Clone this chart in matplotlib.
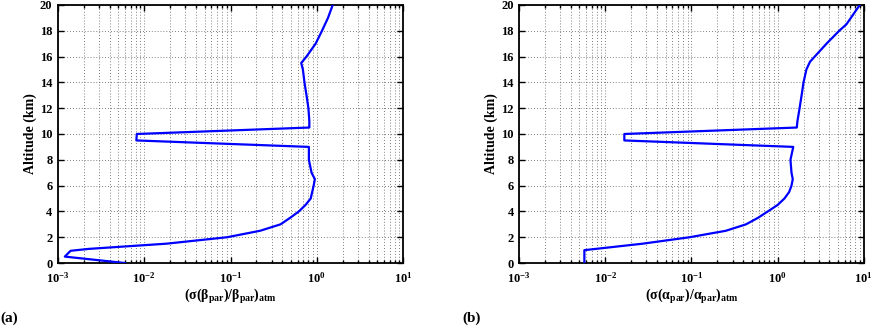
import matplotlib
matplotlib.use("Agg")
import matplotlib.pyplot as plt
from matplotlib.ticker import LogLocator, NullFormatter

plt.rcParams['font.family'] = ['Liberation Serif', 'DejaVu Serif']
plt.rcParams['font.weight'] = 'bold'
plt.rcParams['mathtext.fontset'] = 'custom'
plt.rcParams['mathtext.rm'] = 'Liberation Serif:bold'
plt.rcParams['mathtext.it'] = 'Liberation Serif:bold'
plt.rcParams['mathtext.bf'] = 'Liberation Serif:bold'
plt.rcParams['mathtext.default'] = 'rm'

# Panel (a): relative error of particle backscatter
alt_a = [0.0, 0.5, 0.95, 1.1, 1.5, 2.0, 2.5, 3.0, 3.5, 4.0, 4.5, 5.0, 6.0, 6.5, 7.0, 8.0, 9.0,
         9.5, 10.0, 10.5, 11.0, 12.0, 13.0, 14.0, 15.0, 15.5, 16.0, 17.0, 18.0, 19.0, 20.0]
err_a = [0.006, 0.0012, 0.0014, 0.0023, 0.018, 0.091, 0.22, 0.38, 0.49, 0.62, 0.74, 0.85, 0.92, 0.95, 0.87, 0.81, 0.81,
         0.0081, 0.0082, 0.82, 0.82, 0.80, 0.76, 0.72, 0.69, 0.66, 0.76, 0.97, 1.15, 1.35, 1.53]

# Panel (b): relative error of particle extinction
alt_b = [0.0, 1.0, 1.1, 1.5, 2.0, 2.5, 3.0, 3.5, 4.0, 4.5, 5.0, 5.5, 6.0, 6.5, 7.0, 8.0, 9.0,
         9.5, 10.0, 10.5, 11.0, 12.0, 13.0, 13.5, 14.0, 15.0, 15.6, 16.0, 17.0, 18.0, 18.5, 19.0, 20.0]
err_b = [0.0057, 0.0057, 0.0078, 0.027, 0.095, 0.25, 0.43, 0.59, 0.77, 1.0, 1.2, 1.36, 1.45, 1.5, 1.45, 1.41, 1.52,
         0.0166, 0.0166, 1.67, 1.70, 1.80, 1.90, 1.95, 2.0, 2.16, 2.38, 2.7, 3.7, 5.2, 6.3, 7.1, 9.0]

xlabels = [r'$(\sigma(\beta_{par})/\beta_{par})_{atm}$',
           r'$(\sigma(\alpha_{par})/\alpha_{par})_{atm}$']
panel_labels = ['(a)', '(b)']
yticks = list(range(0, 21, 2))

fig = plt.figure(figsize=(8.72, 3.28), dpi=100)
positions = [[0.0665, 0.198, 0.3957, 0.787], [0.5955, 0.198, 0.395, 0.787]]
label_pos = [(0.001, 0.03), (0.530, 0.03)]

for pos, x, y, xl, pl, lp in zip(positions, [err_a, err_b], [alt_a, alt_b], xlabels, panel_labels, label_pos):
    ax = fig.add_axes(pos)
    ax.plot(x, y, color='#0000ff', lw=1.6, zorder=3)
    ax.set_xscale('log')
    ax.set_xlim(1e-3, 1e1)
    ax.set_ylim(0, 20)
    ax.set_yticks(yticks)
    ax.xaxis.set_major_locator(LogLocator(base=10, numticks=10))
    ax.xaxis.set_minor_locator(LogLocator(base=10, subs=range(2, 10), numticks=50))
    ax.xaxis.set_minor_formatter(NullFormatter())
    gkw = dict(linestyle=(0, (1, 2.5)), color='#555555', lw=0.6)
    ax.grid(True, which='major', axis='both', **gkw)
    ax.grid(True, which='minor', axis='x', **gkw)
    ax.tick_params(which='both', direction='in', top=True, right=True, labelsize=9, width=1)
    ax.tick_params(which='major', length=4)
    ax.tick_params(which='minor', length=2.5)
    ax.tick_params(axis='x', which='major', pad=6)
    ax.tick_params(axis='y', which='major', pad=4)
    for s in ax.spines.values():
        s.set_linewidth(1.3)
    ax.set_ylabel('Altitude (km)', fontsize=10, fontweight='bold', labelpad=2)
    ax.set_xlabel(xl, fontsize=10, labelpad=1)
    fig.text(lp[0], lp[1], pl, fontsize=11, fontweight='bold', ha='left', va='center')

fig.savefig('out.png', dpi=100)
